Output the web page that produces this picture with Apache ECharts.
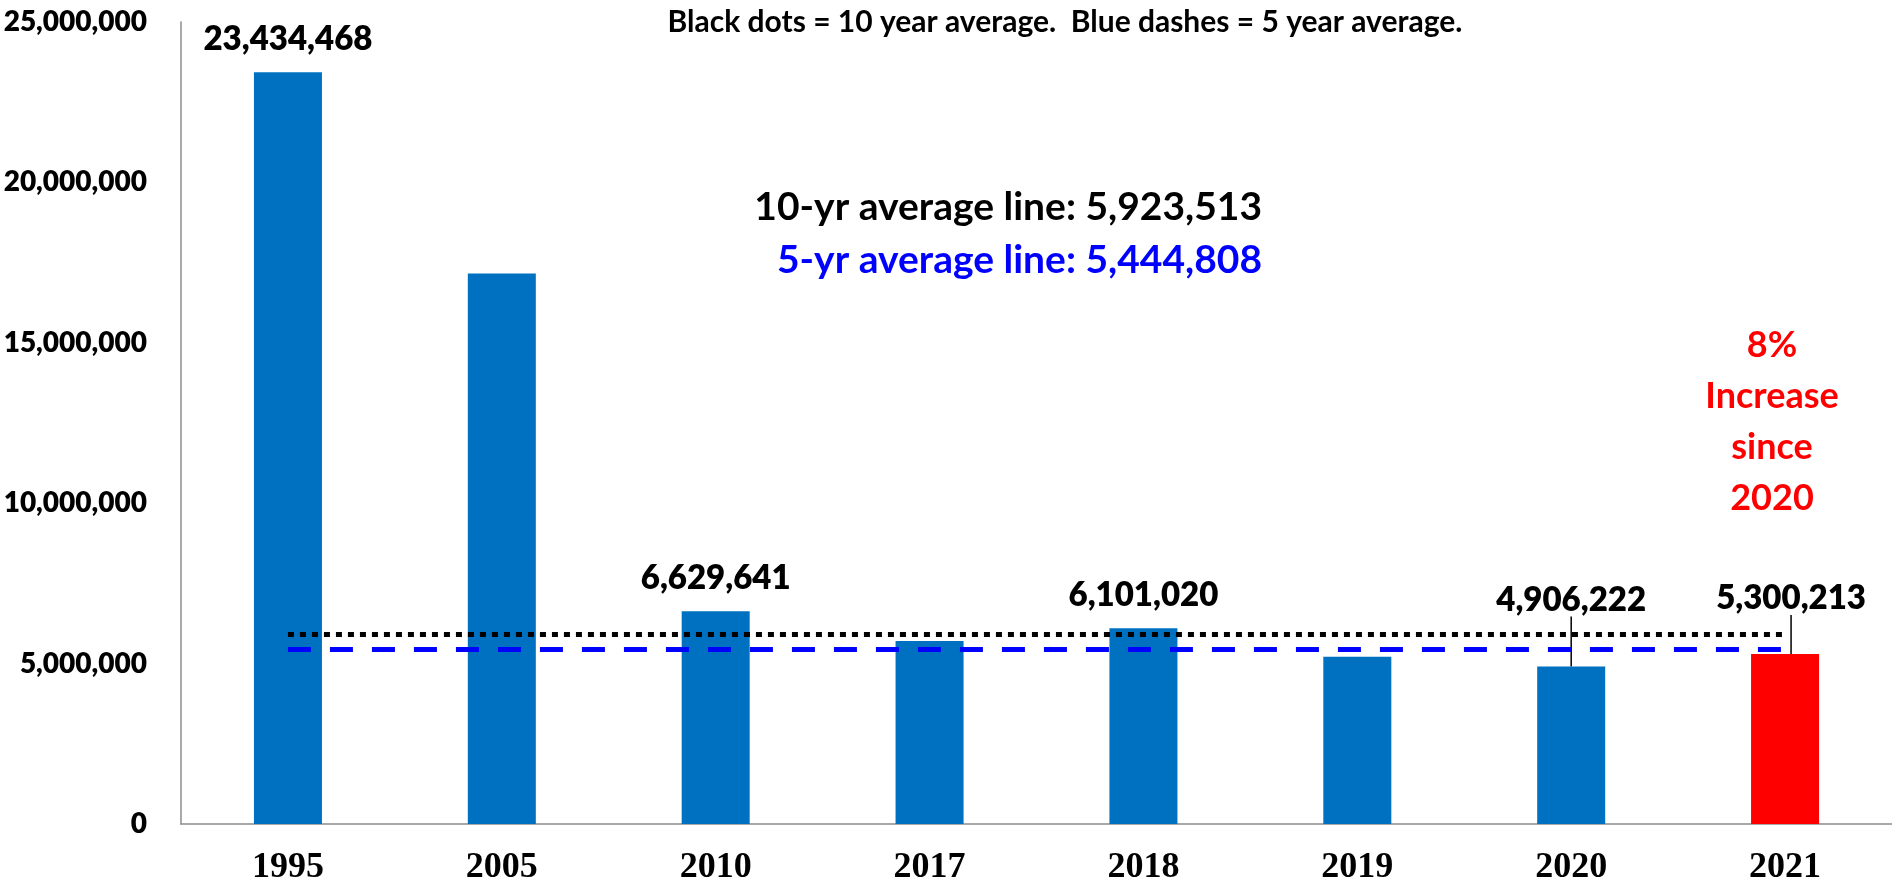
<!DOCTYPE html>
<html>
<head>
<meta charset="utf-8">
<style>
  html, body { margin: 0; padding: 0; background: #fff; }
  #chart { width: 1892px; height: 894px; }
</style>
<script src="https://cdn.jsdelivr.net/npm/echarts@6/dist/echarts.min.js"></script>
</head>
<body>
<div id="chart"></div>
<script>
const categories = ['1995', '2005', '2010', '2017', '2018', '2019', '2020', '2021'];
const values = [23434468, 17160000, 6629641, 5705000, 6101020, 5212000, 4906222, 5300213];
const labelShown = [true, false, true, false, true, false, true, true];
const tenYearAvg = 5923513;
const fiveYearAvg = 5444808;
const yTicks = [0, 5000000, 10000000, 15000000, 20000000, 25000000];
const titleText = 'Black dots = 10 year average.  Blue dashes = 5 year average.';
const avgText10 = '10-yr average line: 5,923,513';
const avgText5 = '5-yr average line: 5,444,808';
const noteLines = ['8%', 'Increase', 'since', '2020'];

const fmt = v => Number(v).toLocaleString('en-US');
const SANS = 'Lato, "Open Sans", sans-serif';

const chart = echarts.init(document.getElementById('chart'), null, { renderer: 'canvas' });

const dataLabelStyle = {
  position: 'top',
  distance: 16,
  color: '#000',
  fontFamily: SANS,
  fontWeight: 800,
  fontSize: 33,
  formatter: p => fmt(p.value)
};

const barData = values.map((v, i) => {
  const item = { value: v, label: Object.assign({}, dataLabelStyle, { show: labelShown[i] }) };
  if (categories[i] === '2021') item.itemStyle = { color: '#FF0000' };
  if (categories[i] === '2020' || categories[i] === '2021') {
    item.labelLine = { show: true, lineStyle: { color: '#000', width: 1.5 } };
  }
  return item;
});

const option = {
  animation: false,
  backgroundColor: '#ffffff',
  grid: { left: 181, right: 0, top: 22, bottom: 70, containLabel: false },
  xAxis: {
    type: 'category',
    data: categories,
    axisLine: { show: true, lineStyle: { color: '#8c8c8c', width: 1.5 } },
    axisTick: { show: false },
    axisLabel: {
      color: '#000',
      fontFamily: '"Liberation Serif", "Times New Roman", serif',
      fontWeight: 'bold',
      fontSize: 36,
      margin: 26
    }
  },
  yAxis: {
    type: 'value',
    min: yTicks[0],
    max: yTicks[yTicks.length - 1],
    interval: yTicks[1] - yTicks[0],
    axisLine: { show: true, lineStyle: { color: '#8c8c8c', width: 1.5 } },
    axisTick: { show: false },
    splitLine: { show: false },
    axisLabel: {
      color: '#000',
      fontFamily: SANS,
      fontWeight: 800,
      fontSize: 28,
      margin: 34,
      formatter: v => fmt(v)
    }
  },
  series: [{
    type: 'bar',
    data: barData,
    barWidth: 68,
    itemStyle: { color: '#0070C0' },
    label: Object.assign({ show: false }, dataLabelStyle),
    labelLine: { show: false, lineStyle: { color: '#000', width: 1.5 } },
    labelLayout: function (params) {
      const c = categories[params.dataIndex];
      if (c === '2020') return { dy: -34 };
      if (c === '2021') return { dy: -23, dx: 6 };
      return {};
    },
    markLine: {
      silent: true,
      symbol: ['none', 'none'],
      label: { show: false },
      data: [
        [
          { coord: [categories[0], tenYearAvg], lineStyle: { color: '#000', width: 5, type: [6, 6] } },
          { coord: [categories[categories.length - 1], tenYearAvg] }
        ],
        [
          { coord: [categories[0], fiveYearAvg], lineStyle: { color: '#0000FF', width: 5, type: [23, 19] } },
          { coord: [categories[categories.length - 1], fiveYearAvg] }
        ]
      ]
    }
  }],
  graphic: [
    {
      type: 'text', x: 1065, y: 22,
      style: { text: titleText, align: 'center', verticalAlign: 'middle', fill: '#000',
        font: 'bold 30px ' + SANS }
    },
    {
      type: 'text', x: 1262, y: 207,
      style: { text: avgText10, align: 'right', verticalAlign: 'middle', fill: '#000',
        font: 'bold 39px ' + SANS }
    },
    {
      type: 'text', x: 1262, y: 260,
      style: { text: avgText5, align: 'right', verticalAlign: 'middle', fill: '#0000FF',
        font: 'bold 39px ' + SANS }
    },
    {
      type: 'text', x: 1772, y: 345 - 25,
      style: { text: noteLines.join('\n'), align: 'center', verticalAlign: 'top', fill: '#FF0000',
        font: 'bold 36px ' + SANS, lineHeight: 51 }
    }
  ]
};

chart.setOption(option);
</script>
</body>
</html>
